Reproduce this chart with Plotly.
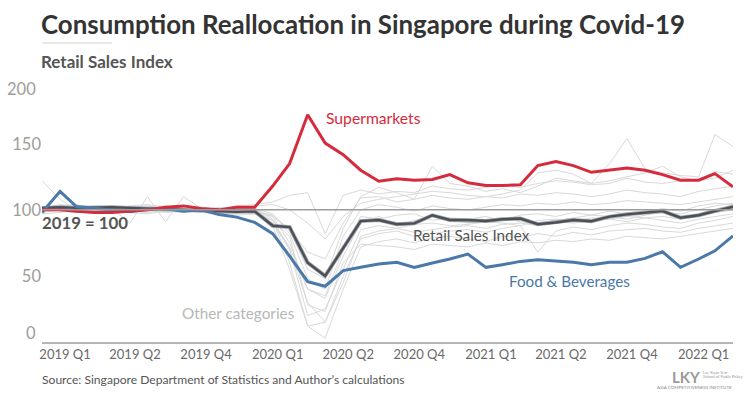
import plotly.graph_objects as go
import pandas as pd

# ---------------- data ----------------
months = pd.date_range("2019-01-01", "2022-04-01", freq="MS")

supermarkets = [100, 100, 99, 98, 98, 99, 100, 102, 103, 101, 100, 102, 102,
                118, 135, 172, 150.5, 141.7, 130, 121.7, 123.5, 122.4, 123, 126.7,
                120.5, 118.5, 118.4, 119, 133.5, 136.5, 133.5, 128.4, 130, 131.7,
                130, 126.7, 122.4, 122.4, 127.4, 117.4]

retail_index = [101.5, 102, 101.5, 102, 102, 101.5, 101, 100.5, 100, 99, 98.5, 98.5, 99,
                88, 87, 60, 50, 71.5, 91.5, 92.3, 89.1, 89.8, 95.9, 92.3,
                92.3, 91.6, 92.9, 93.4, 89.1, 90.4, 92.3, 91.4, 94.9, 96.6,
                97.9, 99.1, 94.1, 95.9, 99.1, 102.4]

food_bev = [98, 114, 102.5, 101, 100, 98.5, 100.5, 101, 99, 100, 96.5, 94.5, 90.5,
            82, 65, 45.7, 42.2, 54, 56.5, 59, 60.3, 56.5, 59.8, 62.8,
            66.5, 56.5, 58.5, 61, 62.3, 61.5, 60.3, 58.5, 60.3, 60.3,
            63.3, 68.3, 56.5, 62.8, 69, 80.3]

other_categories = [
    [122, 108, 100, 101, 103, 102, 100, 99, 101, 102, 100, 99, 98, 90, 70, 30, 15, 45, 80, 84,
     86, 83, 85, 87, 88, 86, 89, 90, 88, 91, 90, 92, 93, 91, 94, 95, 93, 96, 98, 100],
    [100, 102, 103, 101, 100, 101, 99, 101, 102, 100, 101, 103, 104, 106, 111, 113, 82, 111, 115, 112,
     114, 113, 118, 116, 115, 117, 119, 117, 120, 122, 121, 119, 120, 124, 121, 120, 122, 123, 129, 127],
    [101, 104, 103, 101, 100, 99, 98, 100, 101, 100, 99, 98, 99, 96, 85, 55, 48, 86, 110, 117,
     113, 108, 133, 120, 118, 114, 116, 113, 118, 124, 122, 120, 135, 154, 131, 128, 126, 125, 157, 148],
    [99, 103, 104, 102, 101, 90, 110, 91, 110, 101, 98, 96, 97, 90, 72, 40, 35, 70, 95, 93,
     96, 97, 92, 94, 93, 95, 92, 96, 97, 95, 98, 96, 99, 97, 98, 101, 99, 103, 105, 104],
    [98, 100, 99, 100, 102, 101, 100, 98, 99, 100, 101, 100, 99, 92, 60, 12, 3, 40, 72, 76,
     78, 75, 79, 80, 78, 76, 80, 79, 82, 80, 83, 81, 84, 85, 86, 84, 83, 86, 88, 90],
    [100, 99, 98, 99, 101, 102, 103, 101, 99, 98, 97, 98, 100, 88, 55, 12, 15, 50, 78, 82,
     84, 80, 82, 84, 85, 83, 86, 88, 68, 84, 87, 85, 88, 90, 89, 87, 86, 90, 92, 95],
    [101, 100, 101, 103, 102, 100, 99, 100, 100, 99, 100, 101, 101, 93, 70, 20, 25, 55, 85, 88,
     86, 89, 90, 88, 89, 91, 90, 88, 92, 93, 91, 94, 93, 95, 94, 92, 90, 93, 95, 97],
    [97, 98, 100, 99, 98, 99, 101, 102, 100, 101, 99, 100, 98, 95, 75, 40, 33, 65, 90, 95,
     88, 92, 95, 93, 90, 92, 94, 91, 90, 92, 94, 96, 95, 93, 96, 98, 97, 100, 103, 105],
    [102, 101, 100, 98, 99, 100, 102, 103, 101, 100, 102, 101, 100, 95, 85, 68, 63, 90, 109, 110,
     106, 108, 111, 109, 108, 110, 109, 112, 111, 113, 112, 110, 112, 115, 113, 112, 110, 114, 116, 118],
    [99, 101, 102, 100, 99, 98, 97, 99, 100, 101, 100, 99, 97, 92, 80, 28, 23, 60, 74, 73,
     72, 70, 74, 73, 72, 75, 73, 76, 75, 77, 76, 78, 77, 80, 79, 78, 80, 82, 84, 86],
    [100, 100, 99, 101, 100, 103, 104, 102, 100, 99, 98, 99, 101, 97, 82, 48, 40, 80, 100, 104,
     102, 99, 103, 101, 100, 102, 104, 103, 105, 104, 106, 104, 105, 107, 106, 105, 104, 106, 108, 110],
    [100, 101, 100, 99, 100, 101, 100, 99, 98, 100, 101, 102, 103, 104, 100, 90, 78, 95, 105, 108,
     110, 112, 114, 113, 111, 110, 112, 115, 128, 130, 127, 120, 122, 125, 128, 133, 125, 122, 124, 130],
]

base_value = 100
y_ticks = [0, 50, 100, 150, 200]
x_tick_dates = ["2019-02-01", "2019-06-01", "2019-10-01", "2020-02-01", "2020-06-01",
                "2020-10-01", "2021-02-01", "2021-06-01", "2021-10-01", "2022-02-01"]
x_tick_labels = ["2019 Q1", "2019 Q2", "2019 Q4", "2020 Q1", "2020 Q2",
                 "2020 Q4", "2021 Q1", "2021 Q2", "2021 Q4", "2022 Q1"]

# ---------------- layout geometry ----------------
W, H = 749, 394
L, R, T, B = 40, 16, 83, 52
PW, PH = W - L - R, H - T - B
FONT = "Lato"


def px(xp):
    return (xp - L) / PW


def py(yp):
    return (H - B - yp) / PH


RED = "#d52b3c"
BLUE = "#4a78a8"
DARK = "#4b5058"
GRAY = "#d9d9d9"
TICK = "#a09c98"

fig = go.Figure()

for series in other_categories:
    fig.add_trace(go.Scatter(x=months, y=series, mode="lines",
                             line=dict(color=GRAY, width=1), hoverinfo="skip",
                             showlegend=False))

fig.add_hline(y=base_value, line=dict(color="#9b9b9b", width=1.5), layer="above")

fig.add_trace(go.Scatter(x=months, y=retail_index, mode="lines",
                         line=dict(color="#a3a7ad", width=4), showlegend=False,
                         hoverinfo="skip"))
fig.add_trace(go.Scatter(x=months, y=retail_index, mode="lines",
                         line=dict(color=DARK, width=2.4), showlegend=False))
fig.add_trace(go.Scatter(x=months, y=food_bev, mode="lines",
                         line=dict(color=BLUE, width=3), showlegend=False))
fig.add_trace(go.Scatter(x=months, y=supermarkets, mode="lines",
                         line=dict(color=RED, width=3), showlegend=False))

ann = []


def text(xp, yp, s, size, color, xanchor="left", bold=False, yanchor="middle"):
    ann.append(dict(xref="paper", yref="paper", x=px(xp), y=py(yp), text=(f"<b>{s}</b>" if bold else s),
                    showarrow=False, xanchor=xanchor, yanchor=yanchor, borderpad=0,
                    font=dict(family=FONT, size=size, color=color)))


text(38, 24, "Consumption Reallocation in Singapore during Covid-19", 25.9, "#333333", bold=True)
text(38, 62, "Retail Sales Index", 17, "#555555", bold=True)
text(324, 118, "Supermarkets", 15.7, RED)
text(411, 235, "Retail Sales Index", 15.3, "#555555")
text(507, 281, "Food & Beverages", 15.2, BLUE)
text(179, 313, "Other categories", 15.3, "#b8b8b8")
text(39, 222, "2019 = 100", 16.8, "#555555", bold=True)
text(39, 379, "Source: Singapore Department of Statistics and Author\u2019s calculations", 12.1, "#555555")

# y tick labels at the pane edges (shifted inside the pane, as in the original)
ann.append(dict(xref="paper", yref="paper", x=px(35), y=0, yshift=-2, text=str(y_ticks[0]),
                showarrow=False, xanchor="right", yanchor="bottom", borderpad=0,
                font=dict(family=FONT, size=16.5, color=TICK)))
ann.append(dict(xref="paper", yref="paper", x=px(35), y=1, yshift=5, text=str(y_ticks[-1]),
                showarrow=False, xanchor="right", yanchor="top", borderpad=0,
                font=dict(family=FONT, size=16.5, color=TICK)))

# logo
text(671, 377, "LKY", 15, "#9a9a9a", bold=True)
text(702, 372, "Lee Kuan Yew", 4, "#999999")
text(702, 376, "School of Public Policy", 4, "#999999")
text(656, 387, "ASIA COMPETITIVENESS INSTITUTE", 4.5, "#888888")

shapes = [
    dict(type="rect", xref="paper", yref="paper", x0=px(656), x1=px(669), y0=py(381), y1=py(370),
         fillcolor="#7e2a28", line=dict(width=0)),
    dict(type="line", xref="paper", yref="paper", x0=px(40), x1=px(110), y0=py(43), y1=py(43),
         line=dict(color="#e8e8e8", width=2)),
]

fig.update_layout(
    width=W, height=H,
    margin=dict(l=L, r=R, t=T, b=B),
    paper_bgcolor="white", plot_bgcolor="white",
    annotations=ann, shapes=shapes,
    showlegend=False,
    hovermode=False,
    xaxis=dict(range=[months[0], months[-1]], showgrid=False, zeroline=False,
               showline=True, linecolor="#b5b5b5", linewidth=1.5,
               tickmode="array", tickvals=x_tick_dates, ticktext=x_tick_labels,
               ticklabelshift=5, ticks="",
               tickfont=dict(family=FONT, size=13, color="#6a6a6a")),
    yaxis=dict(range=[0, 196], showgrid=False, zeroline=False, showline=False,
               tickmode="array", tickvals=y_ticks[1:-1], ticktext=[str(v) for v in y_ticks[1:-1]],
               ticks="", tickfont=dict(family=FONT, size=16.5, color=TICK)),
)

fig.write_html("out.html", config={"displayModeBar": False},
               post_script="document.body.style.margin='0';")
